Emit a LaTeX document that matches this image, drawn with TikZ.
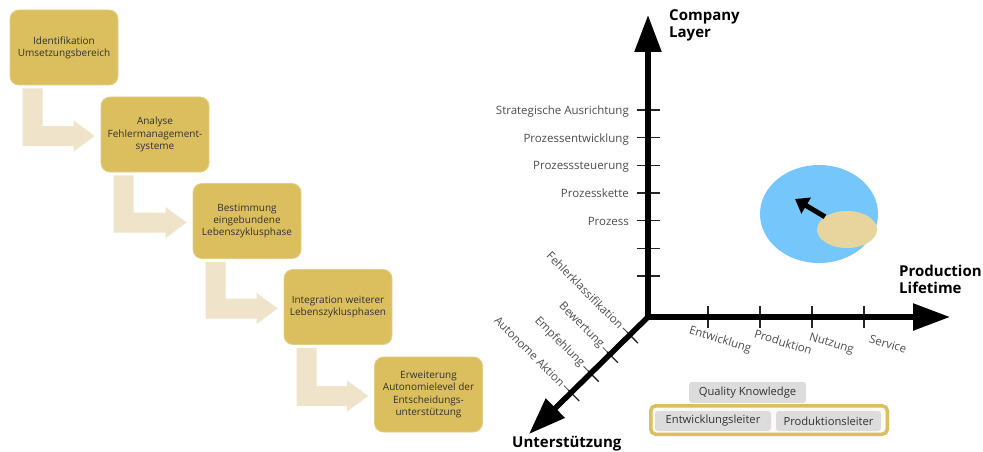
\documentclass[tikz,border=0pt]{standalone}
\usepackage{fontspec}
\setmainfont{Open Sans}
\usetikzlibrary{arrows.meta,calc,shapes.geometric}

\definecolor{mustard}{HTML}{DBBE5E}
\definecolor{flowbeige}{HTML}{EFE3C9}
\definecolor{sky}{HTML}{74C6FB}
\definecolor{sand}{HTML}{E8D59E}
\definecolor{chip}{HTML}{DCDCDC}
\definecolor{ink}{HTML}{333333}
\definecolor{axislbl}{HTML}{4D4D4D}

\begin{document}
\begin{tikzpicture}[x=1pt,y=-1pt,
  stage/.style={fill=mustard, draw=mustard!75!white, line width=0.8pt,
    rounded corners=9pt, minimum width=108pt, minimum height=75pt,
    align=center, text=ink, font=\fontsize{10}{12.2}\selectfont, inner sep=2pt},
  flow/.style={fill=flowbeige},
  axis/.style={line width=5.5pt, -{Triangle[length=37pt,width=26pt]}},
  tickmark/.style={line width=1.3pt, black!85},
  lbl/.style={text=axislbl, font=\fontsize{11.5}{13}\selectfont, inner sep=0pt},
  title/.style={font=\bfseries\fontsize{15}{17}\selectfont, align=left, inner sep=0pt},
  chipbox/.style={fill=chip, rounded corners=3pt, text=ink,
    font=\fontsize{11.2}{13}\selectfont, inner sep=0pt}
]
\useasboundingbox[fill=white] (0,0) rectangle (983,452);

% ---------- process staircase ----------
\node[stage] (b1) at (64,47.5)    {Identifikation\\Umsetzungsbereich};
\node[stage] (b2) at (155,134.5)  {Analyse\\Fehlermanagement-\\systeme};
\node[stage] (b3) at (247,221)    {Bestimmung\\eingebundene\\Lebenszyklusphase};
\node[stage] (b4) at (338,307)    {Integration weiterer\\Lebenszyklusphasen};
\node[stage] (b5) at (428.5,394.5){Erweiterung\\Autonomielevel der\\Entscheidungs-\\unterstützung};

\foreach \a/\b in {b1/b2,b2/b3,b3/b4,b4/b5}{
  \fill[flow] ($(\a.south west)+(13,3)$) coordinate (s) -- ++(20,0)
    |- ($(\b.west)+(-27,-8.5)$) -- ++(0,-5.5) -- ++(21,15.5)
    -- ++(-21,15.5) -- ++(0,-5.5) -| (s);
}

% ---------- three-axis chart ----------
\coordinate (O) at (648,317);
\coordinate (Ytip) at (648,15);
\coordinate (Xtip) at (950,317);
\coordinate (Ztip) at (529,434);

% vertical ticks and labels
\foreach \y in {110,137.7,165.3,193,220.7,248.3,276}
  \draw[tickmark] (636.5,\y) -- (659.5,\y);
\foreach \y/\t in {110/Strategische Ausrichtung, 137.7/Prozessentwicklung,
                   165.3/Prozesssteuerung, 193/Prozesskette, 220.7/Prozess}
  \node[lbl, anchor=base east] at (629,\y+4.3) {\t};

% horizontal ticks and labels
\foreach \x in {708,760,812,864}
  \draw[tickmark] (\x,306) -- (\x,328);
\node[lbl, rotate=-17, anchor=north west] at (691,325) {Entwicklung};
\node[lbl, rotate=-17, anchor=north west] at (756,329) {Produktion};
\node[lbl, rotate=-17, anchor=north west] at (811,332) {Nutzung};
\node[lbl, rotate=-17, anchor=north west] at (871,334) {Service};

% diagonal ticks and labels
\foreach \ax/\ay/\bx/\by/\cx/\cy in {
    627.0/332.0/637.9/343.1/622.8/327.8,
    607.1/351.7/617.9/362.7/602.8/347.4,
    587.8/370.6/598.7/381.6/583.6/366.3,
    568.2/389.9/579.1/400.9/564.0/385.6}{
  \draw[tickmark] (\ax,\ay) -- (\bx,\by);
  \draw[axislbl, line width=0.8pt] (\cx,\cy) -- (\ax,\ay);
}
\node[lbl, rotate=-45, anchor=east] at (621.8,326.7) {Fehlerklassifikation};
\node[lbl, rotate=-45, anchor=east] at (601.8,346.3) {Bewertung};
\node[lbl, rotate=-45, anchor=east] at (582.5,365.2) {Empfehlung};
\node[lbl, rotate=-45, anchor=east] at (563.0,384.5) {Autonome Aktion};

% axes
\draw[axis] ($(O)+(0,2.75)$) -- (Ytip);
\draw[axis] ($(O)+(-2.75,0)$) -- (Xtip);
\draw[axis] (O) -- (Ztip);

\node[title, anchor=north west] (ytitle) at (669,9) {Company\\Layer};
\node[title, anchor=north west] (xtitle) at (899,265) {Production\\Lifetime};
\node[title, anchor=north west] (ztitle) at (512,436) {Unterstützung};

% knowledge region
\node[ellipse, fill=sky, inner sep=0pt, minimum width=118pt, minimum height=98pt] (cloud) at (819,214) {};
\node[ellipse, fill=sand, inner sep=0pt, minimum width=60pt, minimum height=37pt] (core) at (847,229.5) {};
\coordinate (aim) at (795,199);
\draw[line width=5pt, -{Triangle[length=13pt,width=18pt]}] (core.150) -- (aim);

% roles
\node[chipbox, minimum width=117pt, minimum height=21pt] (qk) at (747.5,392.5) {Quality Knowledge};
\node[draw=mustard, fill=mustard!8, line width=3.5pt, rounded corners=5pt,
      minimum width=236.5pt, minimum height=28.5pt, inner sep=0pt] (team) at (769,420) {};
\node[chipbox, minimum width=116pt, minimum height=20pt] (el) at (713,421) {Entwicklungsleiter};
\node[chipbox, minimum width=105pt, minimum height=20pt] (pl) at (828.5,421) {Produktionsleiter};
\end{tikzpicture}
\end{document}
